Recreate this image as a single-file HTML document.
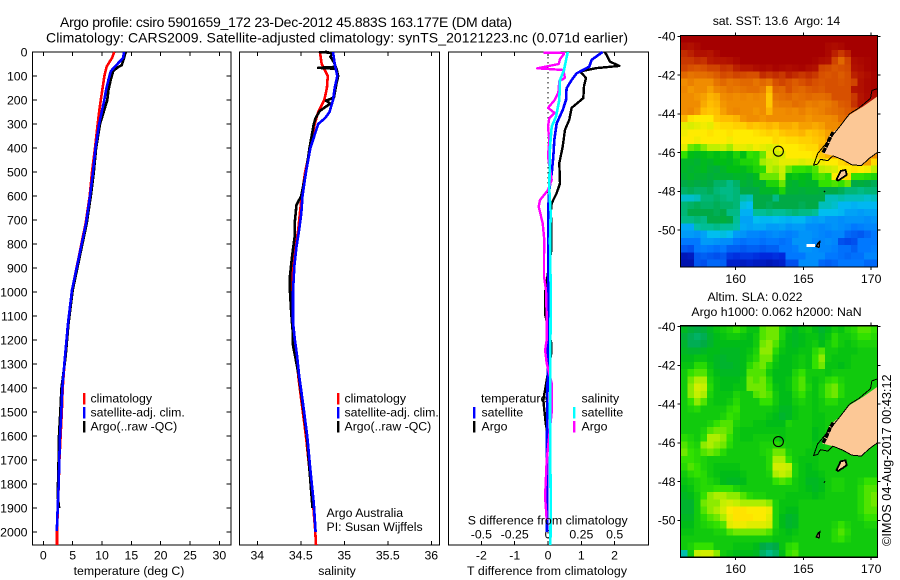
<!DOCTYPE html>
<html lang="en">
<head>
<meta charset="utf-8">
<title>Argo profile csiro 5901659_172</title>
<style>
html,body{margin:0;padding:0;background:#fff;}
svg{display:block;}
text{font-family:"Liberation Sans",Arial,sans-serif;font-size:12.3px;fill:#000;}
.t14{font-size:14px;}
</style>
</head>
<body>
<svg id="figure" xmlns="http://www.w3.org/2000/svg" width="900" height="580" viewBox="0 0 900 580">
<rect x="0" y="0" width="900" height="580" fill="#fff"/>
<text class="t14" x="60" y="27" textLength="452">Argo profile: csiro 5901659_172 23-Dec-2012 45.883S 163.177E (DM data)</text>
<text class="t14" x="46" y="42.7" textLength="582">Climatology: CARS2009. Satellite-adjusted climatology: synTS_20121223.nc (0.071d earlier)</text>

<g id="plots"></g>

<text x="129" y="575" text-anchor="middle">temperature (deg C)</text>
<text x="337" y="575" text-anchor="middle">salinity</text>
<text x="467" y="575" textLength="160">T difference from climatology</text>
<text x="467.7" y="524.3" textLength="160">S difference from climatology</text>

<g>
<rect x="83" y="393" width="2.4" height="11.5" fill="#f00"/>
<text x="90.5" y="402.3">climatology</text>
<rect x="83" y="407" width="2.4" height="11.5" fill="#00f"/>
<text x="90.5" y="416.3">satellite-adj. clim.</text>
<rect x="83" y="421" width="2.4" height="11.5" fill="#000"/>
<text x="90.5" y="430.3">Argo(..raw -QC)</text>
</g>
<g>
<rect x="337" y="393" width="2.4" height="11.5" fill="#f00"/>
<text x="344.5" y="402.3">climatology</text>
<rect x="337" y="407" width="2.4" height="11.5" fill="#00f"/>
<text x="344.5" y="416.3">satellite-adj. clim.</text>
<rect x="337" y="421" width="2.4" height="11.5" fill="#000"/>
<text x="344.5" y="430.3">Argo(..raw -QC)</text>
</g>
<g>
<text x="481" y="402.3">temperature</text>
<rect x="473" y="407" width="2.4" height="11.5" fill="#00f"/>
<text x="481.5" y="416.3">satellite</text>
<rect x="473" y="421" width="2.4" height="11.5" fill="#000"/>
<text x="481.5" y="430.3">Argo</text>
<text x="581.5" y="402.3">salinity</text>
<rect x="573" y="407" width="2.4" height="11.5" fill="#0ff"/>
<text x="581.5" y="416.3">satellite</text>
<rect x="573" y="421" width="2.4" height="11.5" fill="#f0f"/>
<text x="581.5" y="430.3">Argo</text>
</g>
<text x="326.5" y="517">Argo Australia</text>
<text x="326.5" y="531">PI: Susan Wijffels</text>

<text x="712.7" y="25" textLength="127.5" xml:space="preserve">sat. SST: 13.6  Argo: 14</text>
<text x="755" y="301" text-anchor="middle">Altim. SLA: 0.022</text>
<text x="776.5" y="316" text-anchor="middle">Argo h1000: 0.062 h2000: NaN</text>
<text transform="translate(891,546) rotate(-90)" style="font-size:12.7px">©IMOS 04-Aug-2017 00:43:12</text>
</svg>

<script>
/* ---------- profile data ---------- */
const depthTicks = [0,100,200,300,400,500,600,700,800,900,1000,1100,1200,1300,1400,1500,1600,1700,1800,1900,2000];
const tempTicks = [0,5,10,15,20,25,30];
const salTicks = [34,34.5,35,35.5,36];
const salTickLabels = ["34","34.5","35","35.5","36"];
const tDiffTicks = [-2,-1,0,1,2];
const tDiffTickLabels = ["-2","-1","0","1","2"];
const sDiffTicks = [-0.5,-0.25,0,0.25,0.5];
const sDiffTickLabels = ["-0.5","-0.25","0","0.25","0.5"];

const climTempDepth = [0,25,45,61,80,102,150,200,250,300,400,500,600,714,853,992,1131,1269,1400,1500,1600,1700,1800,1900,2000,2054];
const climTemp = [12.1,11.7,11.2,10.8,10.6,10.4,10.1,9.8,9.5,9.27,8.8,8.3,7.9,7.2,6.05,4.9,4.2,3.7,3.3,3.15,2.95,2.75,2.62,2.47,2.33,2.33];
const satTempDepth = [0,25,61,80,115,157,200,300,400,500,600,714,853,992,1131,1269,1400,1500,1600,1700,1800,1900,1995];
const satTemp = [13.75,13.6,12.2,11.5,11.1,10.7,10.4,9.5,8.9,8.47,7.95,7.27,6.08,4.89,4.2,3.7,3.24,3.07,2.85,2.73,2.62,2.45,2.3];
const argoTempDepth = [0,10,25,55,65,80,115,157,200,300,400,500,600,714,853,992,1131,1269,1400,1500,1600,1700,1850,1900];
const argoTemp = [14.1,13.9,13.75,13.35,12.6,11.9,11.5,11.1,10.9,9.66,9.0,8.6,8.1,7.4,6.2,5.0,4.3,3.8,3.1,2.9,2.67,2.6,2.45,2.7];

const climSalDepth = [0,50,100,150,200,250,300,400,500,600,672,742,811,894,1000,1125,1194,1264,1347,1464,1603,1742,1881,1992,2054];
const climSal = [34.72,34.74,34.81,34.80,34.77,34.70,34.66,34.61,34.55,34.51,34.49,34.47,34.44,34.41,34.40,34.40,34.42,34.45,34.47,34.51,34.56,34.60,34.64,34.665,34.675];
const satSalDepth = [0,50,100,150,200,250,275,300,400,500,600,672,742,811,894,1000,1125,1194,1264,1347,1464,1603,1742,1881,2000];
const satSal = [34.87,34.89,34.92,34.89,34.87,34.83,34.78,34.70,34.61,34.56,34.52,34.506,34.48,34.45,34.425,34.41,34.41,34.43,34.456,34.48,34.525,34.575,34.61,34.65,34.67];
const argoSalDepth = [0,1,3,8,20,30,50,62,66,70,85,100,130,190,203,215,245,275,300,400,500,600,637,712,768,850,932,1000,1085,1180,1222,1278,1347,1464,1603,1742,1900];
const argoSal = [34.80,34.72,34.87,34.86,34.84,34.86,34.89,34.90,34.70,34.91,34.92,34.93,34.91,34.88,34.79,34.84,34.72,34.67,34.65,34.60,34.56,34.505,34.45,34.43,34.43,34.40,34.376,34.376,34.39,34.41,34.41,34.44,34.476,34.52,34.57,34.60,34.635];

const tDiffSatDepth = [0,33,61,89,117,151,200,242,297,367,436,506,575,644,783,1200,1600,2000];
const tDiffSat = [1.64,1.31,1.24,0.86,0.71,0.56,0.54,0.44,0.26,0.19,0.16,0.11,0.04,0.01,0.01,0.0,-0.03,-0.03];
const tDiffArgoDepth = [0,12,40,58,67,81,108,143,192,233,282,324,394,463,547,588,630,658,825,1005,1089,1150,1214,1255,1353,1450,1547,1600];
const tDiffArgo = [1.7,1.76,1.86,2.14,1.46,0.96,1.14,1.08,1.06,0.71,0.64,0.51,0.44,0.34,0.36,0.26,0.11,0.09,0.1,-0.09,-0.09,0.0,0.1,0.1,-0.02,-0.14,-0.07,0.0];
const sDiffSatDepth = [0,75,117,200,269,311,394,575,672,783,1000,1300,1500,1900,2054];
const sDiffSat = [0.148,0.12,0.09,0.085,0.06,0.028,0.015,0.01,0.02,0.015,0.02,0.017,0.015,0.02,0.018];
const sDiffArgoDepth = [3,4,8,30,50,68,75,108,122,170,200,233,254,275,311,367,436,533,575,617,644,714,783,853,936,992,1103,1200,1242,1297,1380,1430,1500,1700,1853,1950];
const sDiffArgo = [-0.035,0.12,0.12,0.09,0.08,-0.08,0.115,0.127,0.085,0.077,0.05,0.0,0.05,0.01,0.0,0.01,0.0,0.028,0.0,-0.06,-0.07,-0.04,-0.028,-0.03,-0.03,-0.015,-0.01,-0.01,-0.022,-0.01,0.028,0.028,0.028,-0.01,-0.022,-0.01];

/* ---------- map data ---------- */
const lonTicks = [160,165,170];
const latTicks = [-40,-42,-44,-46,-48,-50];
const latTickLabels = ["-40","-42","-44","-46","-48","-50"];
const argoLon = 163.15;
const argoLat = -45.93;

/* satellite SST, degrees C, north row first */
const sstGrid = [
[18,18,18,18,18,18,18,18,18,18,18,18,18,18,18,18,18,18,18,18,18,18,18,18,18,18,18,18,18,18],
[17.4,17.2,17.6,18,18,18,18,18,18,18,18,18,18,18,18,18,18,18,18,18,18,18,17.6,17.4,17.6,18,18,18,18,18],
[16.6,16.8,17.2,17.2,17,17.6,18,18,18,18,18,18,18,18,18,18,18,18,18,18,18,18,17.6,16.8,16.4,16.8,18,18,18,18],
[16.4,16.4,16.6,16.5,16.9,17,17,17.2,17.6,18,18,18,18,18,18,18,18,18,18,18,17.8,17.4,17.2,16.2,15.6,16.2,17.4,17.6,17.8,18],
[16.2,16,15.9,16,16.2,16.2,16.5,16.4,16.8,17,17,17.4,17.6,17.4,17.8,17.6,17.4,17.6,17.8,17.4,17.2,16.2,16.1,15.9,16,16.1,17.2,17.4,17.8,18],
[15.6,15.4,15.5,15.5,15.6,15.8,16.1,16,16.2,16.1,16,16,16.6,16.4,16.6,16.4,16.8,16.6,16.4,16.6,16.4,16,15.9,16,15.8,16,16.8,17,17.4,17.8],
[15,15.2,15,15,15,15.4,15.6,15.4,15.5,15.6,15.6,15.4,15.6,15.4,16,16.2,16,15.8,16,16.2,16,15.9,16,16,15.9,16,16.2,17.2,17.6,17.8],
[15.1,14.9,15,15,14.8,15.1,15.2,15.4,15.3,15.4,15.5,15.5,15.3,14.6,15.7,15.6,16,15.7,15.6,15.8,15.9,15.8,16,16,16,16,17,17.2,17.6,17.8],
[15,15,14.9,14.8,14.6,14.7,15,15.1,15,15.1,15,15.1,15,14.4,15.4,15.5,15.6,15.4,15.5,15.6,15.5,15.5,15.6,16,16,16,16.4,17,17.5,17.5],
[15,15,15,14.7,14.5,14.6,14.9,15,15,15,15,15,15,14.4,15.2,15.3,15.3,15.5,15.4,15.2,15.3,15.2,15.3,15.5,15.8,15.9,16.5,17,17,17],
[15,15.1,14.9,14.5,14.4,14.5,14.8,15,15.1,15,15,14.9,15,14.6,15,15,15.1,15,15.2,15,15.1,15.2,15.4,15.5,15.6,15.8,16,16,16,16],
[14.6,14.1,14,14,14,14.4,14.5,14.5,14.6,14.9,15,15,14.9,15,15,15,15,15,15,14.9,15,15,15,15.1,15.5,15.6,16,16,16,16],
[13.8,13.7,13.8,13.9,13.8,14.1,14.2,14.2,14.3,14.3,14.5,14.4,14.5,14.6,14.5,14.7,14.7,14.6,14.8,14.8,14.7,14.8,15,15,15.1,16,16,16,16,16],
[13.9,14,14,14,14.1,14,14,14.1,14,14,14,14.1,14.2,14.3,14.2,14.4,14.5,14.5,14.6,14.4,14.5,14.6,14.8,15,15,16,16,16,16,16],
[14,14,13.9,14,14,14,14,13.9,14,14,14,14,14,14,14.2,14.1,14.2,14.2,14.3,14.3,14.4,14.5,14.8,15,15,16,16,16,16,16],
[13.8,13.2,13.1,13.3,13.5,13.5,13.6,13.4,13.8,13.8,13.7,13.9,13.8,13.7,13.8,14,14,14,14.1,14.2,14.2,14.6,15,15,15,16,16,16,16,16],
[13,12.5,12.4,12.5,12.6,12.5,12.6,12.5,12.8,12.5,13,12.9,13.2,13.8,13.6,13.7,14,14,14,14,14.1,14.4,14.6,14.8,15,16,16,16,15,15],
[12.3,12.3,12.2,12.4,12.3,12.5,12.5,12.4,12.6,12.8,12.8,12.9,13.4,13.5,13.6,13.8,13.8,13.8,13.7,13.8,13.8,13.9,14,14,14.2,14.4,14.5,14.6,14.8,14.2],
[12.3,12.2,12.3,12.4,12.2,12.1,12.3,12.5,12.5,12.4,12.6,12.8,12.9,13.5,13.4,13.6,13.2,13,13,12.9,13.1,13.5,13.6,13.7,14,14,14.1,14,13.9,13.5],
[12.2,12.3,12.2,12.2,12.1,12.2,12.2,12.2,12.3,12.3,12.2,12.4,13.2,13.2,13.2,13.5,12.5,12.6,12.5,12.4,13,13.1,13,14,14,14.2,13,13,12.9,12.8],
[12,12.1,12,12.1,12,11.8,11.8,11.6,11.8,12.2,12.1,12.3,12.2,12.8,12.8,13.2,12.3,12.2,12.4,12.3,12.3,13,13,13.1,13,13.2,12,12.1,12,11.9],
[11.8,11.9,11.8,11.8,11.9,11.7,11.6,11.6,11.7,12,12,12,12.3,12.3,12.4,12.8,12.2,12.2,12.1,12.2,12.2,12.1,12,12,11.9,11.7,11.7,11.6,11.7,11.7],
[11.2,11.2,11.3,11.7,11.7,11.8,11.7,11.6,11.7,11.4,11.3,12,12,12,11.6,12,12,12,12,12,12,12,11.3,11.3,11.4,11.3,11.3,11.3,11.2,11.3],
[11.7,11.8,11.9,11.8,11.8,11.9,11.8,11.8,11.7,11.1,11,12,12,11.9,12,12,12,12,11.9,12,12,11.3,11.3,11.2,10.9,10.9,10.8,10.9,10.9,10.9],
[11.7,12,12,12,12,11.9,12,11.6,11.6,10.8,10.8,11.5,11.5,11.6,11.5,11.5,11.6,11.7,11.6,11.6,11.5,11,11,11,10.9,10.6,10.6,10.5,10.6,10.6],
[11.6,11.6,11.7,11.6,12,12,12.1,12,11.5,10.6,10.6,11,10.9,10.9,11,10.9,10.8,10.9,10.9,10.6,10.5,10.6,10.4,10.4,10.3,10.4,10.4,10.4,10.3,10.4],
[10.7,10.7,11.4,11.5,11.5,11.6,11.5,11.5,11.4,10.7,10.6,10.7,10.7,10.5,10.5,10.6,10.4,10.5,10.5,10.3,10.3,10.2,10.3,10.4,10.3,10.2,10,10.1,10.2,10.2],
[10.5,10.5,10.4,10.6,11,11,11.1,11,10.5,10.4,10.2,10.2,10.1,10.2,10.3,10.2,10.1,10.2,10.4,10.4,10.3,10.2,10.1,10.2,10.2,9.8,9.7,9.6,9.8,10],
[10,10,10,10.5,10.5,10.4,10.3,10.3,10,9.9,10,10,9.9,10,10,9.9,10,10.4,10.4,10.4,10.2,10.2,10.3,10.2,9.5,9.4,9.5,10,10,10],
[9.6,9.5,10,10.1,10,9.9,10,9.7,9.7,9.6,9.7,9.7,9.6,9.7,9.7,10,10,10.1,10.4,10.4,10.3,10.2,10.2,10.1,9.9,9.9,9.7,10,10,10.1],
[8.6,8.7,9.6,9.7,9.6,9.5,9.6,9.2,9.1,9.2,9.2,9.1,9,9,9.1,9,10,10,10,10.3,10.3,10.3,10,10,9.9,9.8,9.9,9.9,10.2,10.2],
[8.5,8.5,9.6,9.5,9.8,9.8,9.7,8.8,8.8,8.7,8.8,8.7,8.7,8.6,8.7,8.8,9.5,9.5,10.3,10.3,10.3,9.8,9.7,9.8,10,10,10,10,9.8,9.8]
];

/* altimeter sea-level anomaly, centimetres, north row first */
const slaGrid = [
[0,-2,-3,-2,0,2,3,4,6,4,2,2,7,8,8,4,2,0,2,3,1,-1,1,3,2,4,5,7,7,6],
[-2,-4,-5,-4,-1,1,2,3,3,2,1,3,7,8,8,4,1,0,1,2,2,0,2,5,3,3,4,6,6,5],
[-1,-4,-4,-3,-1,1,1,1,1,1,1,3,8,9,7,3,1,0,1,2,3,1,3,5,3,2,3,4,4,4],
[0,-1,-1,0,1,1,0,0,0,1,2,4,9,9,5,2,1,1,2,2,5,7,3,3,2,2,2,3,3,3],
[1,1,2,2,1,0,-1,0,0,1,3,5,8,8,3,1,1,2,3,2,6,9,3,2,2,2,3,3,3,3],
[2,2,5,5,2,0,-1,-1,0,1,5,7,8,5,2,1,1,2,3,2,6,8,2,2,1,2,3,3,3,3],
[3,6,7,7,3,1,0,0,0,1,7,7,7,3,1,1,1,4,6,3,3,3,2,3,3,3,3,3,3,3],
[3,8,10,10,4,2,1,1,1,2,8,7,8,5,1,1,2,5,7,3,2,3,5,6,4,3,3,3,3,3],
[3,9,12,11,5,2,1,1,2,2,8,8,8,6,2,1,2,5,7,4,2,4,7,8,5,3,3,3,3,3],
[3,9,11,10,4,2,2,2,4,3,3,7,8,7,3,1,1,4,6,3,2,4,7,8,5,3,3,3,3,3],
[3,6,9,7,3,2,2,3,5,3,3,3,6,6,3,1,1,3,4,3,2,3,5,5,3,3,3,3,3,3],
[3,4,5,3,3,3,3,5,6,3,3,3,3,3,2,0,0,2,3,3,2,3,3,3,3,3,3,3,3,3],
[3,3,3,3,3,3,4,6,5,3,3,3,3,2,1,-1,0,2,3,3,2,2,3,3,3,3,3,3,3,3],
[3,3,3,3,4,6,7,7,4,3,3,2,2,1,1,1,4,3,3,3,2,2,3,3,3,3,3,3,3,3],
[3,3,3,4,7,8,8,7,3,2,2,2,2,2,2,2,3,3,3,3,1,2,3,3,3,3,3,3,3,3],
[5,4,3,5,10,10,9,6,3,2,2,3,3,3,3,2,3,3,3,3,1,2,3,3,3,3,3,3,3,3],
[7,5,4,9,10,9,8,5,3,3,3,3,4,4,5,4,3,3,3,3,2,2,3,3,3,3,3,3,3,3],
[8,6,5,7,8,7,5,3,3,3,3,3,4,5,8,8,4,3,3,2,2,3,3,3,3,3,3,3,3,3],
[6,6,5,4,3,3,3,3,3,3,3,3,3,5,10,10,6,3,2,2,2,3,3,3,3,3,3,3,3,3],
[5,7,6,4,3,2,2,2,2,3,3,3,3,5,12,12,11,4,2,1,2,3,3,3,3,3,3,3,3,3],
[3,5,6,5,3,2,1,1,1,2,3,3,3,4,10,11,10,4,2,1,1,2,3,3,3,3,3,3,3,3],
[2,3,4,5,4,3,1,0,0,1,3,3,3,3,6,7,6,3,2,0,0,1,3,4,4,3,3,4,6,6],
[1,2,4,5,5,6,6,6,4,3,3,3,3,3,3,3,3,3,2,1,0,1,3,4,4,3,3,5,7,7],
[0,1,3,6,9,10,10,9,9,7,5,4,4,3,3,3,2,2,2,2,1,2,3,3,3,3,3,5,7,8],
[-1,-1,3,8,9,9,11,12,11,10,10,10,10,9,4,2,2,2,3,3,3,3,3,3,3,3,3,5,7,8],
[-1,-1,3,7,9,10,12,15,16,16,15,15,15,14,4,2,1,1,3,3,3,3,3,3,3,3,3,5,7,7],
[0,0,3,5,7,8,10,14,16,16,16,15,15,13,4,1,-1,0,3,3,3,3,3,3,3,3,3,4,6,6],
[1,1,3,4,5,6,7,13,14,14,13,13,13,12,4,1,-1,0,3,3,3,3,3,4,6,4,3,3,4,4],
[2,2,3,3,3,4,4,7,8,8,8,8,8,7,3,2,1,2,3,3,3,3,3,5,7,5,3,3,3,3],
[3,3,3,3,3,3,3,3,3,3,3,3,3,3,2,2,2,3,3,3,3,3,3,5,6,4,3,3,3,3],
[3,4,6,6,6,3,3,3,2,2,2,1,-3,-4,-3,2,5,6,3,3,3,3,3,3,3,3,3,3,3,3],
[-9,3,11,12,12,9,3,2,1,1,1,0,-5,-7,-5,1,6,7,3,3,3,3,3,3,3,3,3,3,3,3]
];

/* coastline geography, degrees */
const landLon = [170.5,169.39,168.41,167.67,166.94,166.57,166.4,167.18,167.92,168.53,169.26,169.88,170.5];
const landLat = [-43.08,-43.63,-44.05,-44.66,-45.09,-45.69,-46.03,-46.17,-46.37,-46.63,-46.68,-46.29,-46];
const coastLon = [170.45,170.05,169.95,169.1,168.4,167.75,166.65,166.05,165.75,166.05,166.25,166.8,167.18,167.9,168.55,169.26,169.88,170.45];
const coastLat = [-42.7,-42.8,-43.2,-43.7,-44,-44.6,-45.55,-46.05,-46.65,-46.6,-46.35,-46.42,-46.17,-46.37,-46.63,-46.68,-46.29,-46];
const fiordLon = [166.45,166.7,166.95,167.2];
const fiordLat = [-46,-45.65,-45.25,-44.95];
const stewartLon = [167.45,167.75,168.1,168.2,167.9,167.55,167.45];
const stewartLat = [-47.4,-46.95,-46.9,-47.15,-47.3,-47.45,-47.4];
const snaresLon = [165.95,166.1,166.2,166.15,165.95];
const snaresLat = [-50.85,-50.65,-50.6,-50.9,-50.85];
const islandLon = [166.5,166.6];
const islandLat = [-48.05,-47.98];

const paletteStops = [0,0.1,0.2,0.3,0.35,0.4,0.45,0.5,0.55,0.6,0.65,0.7,0.8,0.9,1];
const paletteColors = [[0,0,130],[0,40,220],[0,120,255],[0,190,240],[0,190,150],[0,170,70],[0,190,20],[50,225,0],[190,240,0],[255,235,0],[255,190,0],[240,140,0],[215,80,0],[180,20,0],[165,0,0]];

/* ---------- helpers ---------- */
const NS = "http://www.w3.org/2000/svg";
const plotsLayer = document.getElementById("plots");
function svgEl(tag, attrs, parent){
  const el = document.createElementNS(NS, tag);
  for (const k in attrs) el.setAttribute(k, attrs[k]);
  (parent || plotsLayer).appendChild(el);
  return el;
}
function paletteColor(f){
  f = Math.max(0, Math.min(1, f));
  let i = 0;
  while (i < paletteStops.length - 2 && f > paletteStops[i + 1]) i++;
  const t = (f - paletteStops[i]) / (paletteStops[i + 1] - paletteStops[i]);
  const a = paletteColors[i], b = paletteColors[i + 1];
  return "rgb(" + [0,1,2].map(function(c){ return Math.round(a[c] + (b[c] - a[c]) * t); }).join(",") + ")";
}

/* ---------- profile panels ---------- */
const plotTop = 52, plotBottom = 545;
const depthY = function(d){ return plotTop + d * 0.24; };
const tempX = function(v){ return 43.3 + v * 5.87; };
const salX = function(v){ return 257.3 + (v - 34) * 87; };
const tDiffX = function(v){ return 548 + v * 33.3; };
const sDiffX = function(v){ return 548 + v * 133.3; };

function drawFrame(name, left, right){
  const frame = svgEl("rect", {x:left, y:plotTop, width:right-left, height:plotBottom-plotTop, fill:"none", stroke:"#000", "stroke-width":1.2, "shape-rendering":"crispEdges"});
  
  
}
function drawTickMark(x1, y1, x2, y2){
  const tick = svgEl("line", {x1:x1, y1:y1, x2:x2, y2:y2, stroke:"#000", "stroke-width":1, "shape-rendering":"crispEdges"});
  
  
}
function drawXTicks(ticks, labels, xf, bottomTicks, labelY){
  ticks.forEach(function(v, i){
    const x = xf(v);
    drawTickMark(x, plotTop, x, plotTop + 4);
    if (bottomTicks) drawTickMark(x, plotBottom, x, plotBottom - 4);
    const label = svgEl("text", {x:x, y:labelY, "text-anchor":"middle"});
    
    
    label.textContent = labels[i];
  });
}
function drawProfile(name, depths, values, xf, color, width){
  const points = depths.map(function(d, i){ return xf(values[i]).toFixed(1) + "," + depthY(d).toFixed(1); }).join(" ");
  const line = svgEl("polyline", {points:points, fill:"none", stroke:color, "stroke-width":width, "stroke-linejoin":"round", "shape-rendering":"crispEdges"});
  
  
}

drawFrame("temperature-panel", 32.5, 231);
drawFrame("salinity-panel", 239.5, 439.5);
drawFrame("difference-panel", 448.5, 648.5);

depthTicks.forEach(function(d){
  const y = depthY(d);
  drawTickMark(32.5, y, 37, y);
  drawTickMark(231, y, 226.5, y);
  const label = svgEl("text", {x:27.5, y:y + 4.3, "text-anchor":"end"});
  
  
  label.textContent = String(d);
});
drawXTicks(tempTicks, tempTicks.map(String), tempX, true, 559.3);
drawXTicks(salTicks, salTickLabels, salX, true, 559.3);
drawXTicks(tDiffTicks, tDiffTickLabels, tDiffX, true, 559.3);
sDiffTicks.forEach(function(v, i){
  const label = svgEl("text", {x:sDiffX(v), y:538.7, "text-anchor":"middle"});
  
  
  label.textContent = sDiffTickLabels[i];
});

const zeroLine = svgEl("line", {x1:tDiffX(0), y1:plotTop, x2:tDiffX(0), y2:plotBottom, stroke:"#000", "stroke-width":1, "stroke-dasharray":"1.5 3.5", "shape-rendering":"crispEdges"});



drawProfile("temperature-climatology-line", climTempDepth, climTemp, tempX, "#f00", 2.6);
drawProfile("temperature-argo-line", argoTempDepth, argoTemp, tempX, "#000", 2.6);
drawProfile("temperature-satellite-line", satTempDepth, satTemp, tempX, "#00f", 2.6);
drawProfile("salinity-climatology-line", climSalDepth, climSal, salX, "#f00", 2.6);
drawProfile("salinity-argo-line", argoSalDepth, argoSal, salX, "#000", 2.6);
drawProfile("salinity-satellite-line", satSalDepth, satSal, salX, "#00f", 2.6);
drawProfile("t-difference-argo-line", tDiffArgoDepth, tDiffArgo, tDiffX, "#000", 2.4);
drawProfile("t-difference-satellite-line", tDiffSatDepth, tDiffSat, tDiffX, "#00f", 2.6);
drawProfile("s-difference-argo-line", sDiffArgoDepth, sDiffArgo, sDiffX, "#f0f", 2.4);
drawProfile("s-difference-satellite-line", sDiffSatDepth, sDiffSat, sDiffX, "#0ff", 2.6);

/* ---------- maps ---------- */
const mapLeft = 680.5, mapRight = 877.5;
const lonMin = 155.95, lonMax = 170.45, latMax = -39.95, latMin = -51.9;
const lonX = function(lon){ return 735.7 + (lon - 160) * 13.55; };
function latYFor(originY){ return function(lat){ return originY + (-40 - lat) * 19.37; }; }

function pathFrom(lons, lats, latY, close){
  return lons.map(function(lon, i){ return (i ? "L" : "M") + lonX(lon).toFixed(1) + " " + latY(lats[i]).toFixed(1); }).join("") + (close ? "Z" : "");
}

function drawMap(name, originY, grid, toFraction, labelY){
  const latY = latYFor(originY);
  const group = svgEl("g", {});
  
  
  const rows = grid.length, cols = grid[0].length;
  const dLon = (lonMax - lonMin) / cols, dLat = (latMax - latMin) / rows;
  grid.forEach(function(row, r){
    row.forEach(function(value, c){
      const x0 = lonX(lonMin + c * dLon), x1 = lonX(lonMin + (c + 1) * dLon);
      const y0 = latY(latMax - r * dLat), y1 = latY(latMax - (r + 1) * dLat);
      const cell = svgEl("rect", {x:x0.toFixed(2), y:y0.toFixed(2), width:(x1-x0+0.3).toFixed(2), height:(y1-y0+0.3).toFixed(2), fill:paletteColor(toFraction(value)), "shape-rendering":"crispEdges"}, group);
      
      
    });
  });

  const land = svgEl("path", {d:pathFrom(landLon, landLat, latY, true), fill:"#fcc896", stroke:"none"}, group);
  
  
  const coast = svgEl("path", {d:pathFrom(coastLon, coastLat, latY, false), fill:"none", stroke:"#000", "stroke-width":1, "shape-rendering":"crispEdges"}, group);
  
  
  const fiord = svgEl("path", {d:pathFrom(fiordLon, fiordLat, latY, false), fill:"none", stroke:"#000", "stroke-width":3.5, "stroke-dasharray":"5 1", "shape-rendering":"crispEdges"}, group);
  
  
  const stewart = svgEl("path", {d:pathFrom(stewartLon, stewartLat, latY, true), fill:"#fcc896", stroke:"#000", "stroke-width":1.8, "shape-rendering":"crispEdges"}, group);
  
  
  const snares = svgEl("path", {d:pathFrom(snaresLon, snaresLat, latY, true), fill:"#fcc896", stroke:"#000", "stroke-width":1.4, "shape-rendering":"crispEdges"}, group);
  
  
  const islet = svgEl("path", {d:pathFrom(islandLon, islandLat, latY, false), fill:"none", stroke:"#000", "stroke-width":1, "shape-rendering":"crispEdges"}, group);
  
  

  const marker = svgEl("circle", {cx:lonX(argoLon), cy:latY(argoLat), r:5, fill:"none", stroke:"#000", "stroke-width":1.1}, group);
  
  

  const top = latY(latMax), bottom = latY(latMin);
  const frame = svgEl("rect", {x:mapLeft, y:top, width:mapRight-mapLeft, height:bottom-top, fill:"none", stroke:"#000", "stroke-width":1.1, "shape-rendering":"crispEdges"}, group);
  
  

  lonTicks.forEach(function(lon){
    const x = lonX(lon);
    const topTick = svgEl("line", {x1:x, y1:top - 3, x2:x, y2:top, stroke:"#000", "stroke-width":1, "shape-rendering":"crispEdges"}, group);
    
    
    const bottomTick = svgEl("line", {x1:x, y1:bottom, x2:x, y2:bottom + 3, stroke:"#000", "stroke-width":1, "shape-rendering":"crispEdges"}, group);
    
    
    const label = svgEl("text", {x:x, y:labelY, "text-anchor":"middle"}, group);
    
    
    label.textContent = String(lon);
  });
  latTicks.forEach(function(lat, i){
    const y = latY(lat);
    const leftTick = svgEl("line", {x1:mapLeft - 3, y1:y, x2:mapLeft, y2:y, stroke:"#000", "stroke-width":1, "shape-rendering":"crispEdges"}, group);
    
    
    const rightTick = svgEl("line", {x1:mapRight, y1:y, x2:mapRight + 3, y2:y, stroke:"#000", "stroke-width":1, "shape-rendering":"crispEdges"}, group);
    
    
    const label = svgEl("text", {x:675.5, y:y + 4.3, "text-anchor":"end"}, group);
    
    
    label.textContent = latTickLabels[i];
  });
  return latY;
}

const sstLatY = drawMap("sst-map", 36.3, sstGrid, function(v){ return (v - 8) / 10; }, 283);
drawMap("sla-map", 326.7, slaGrid, function(v){ return (v / 100 + 0.40) / 0.92; }, 573);

const missingStrip = svgEl("rect", {x:lonX(165.22), y:sstLatY(-50.72), width:lonX(165.85) - lonX(165.22), height:3, fill:"#fff", "shape-rendering":"crispEdges"});


</script>
</body>
</html>
